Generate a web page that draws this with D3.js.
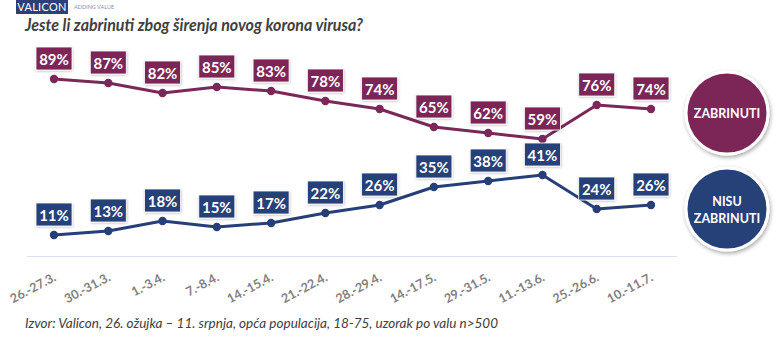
<!DOCTYPE html>
<html>
<head>
<meta charset="utf-8">
<script src="https://cdn.jsdelivr.net/npm/d3@7"></script>
<style>
  body { margin: 0; background: #fff; }
  svg { display: block; font-family: Lato, "Open Sans", sans-serif; }
</style>
</head>
<body>
<svg id="chart" width="778" height="342"></svg>
<script>
// survey waves and shares (%)
const waves = ["26.-27.3.", "30.-31.3.", "1.-3.4.", "7.-8.4.", "14.-15.4.", "21.-22.4.",
  "28.-29.4.", "14.-17.5.", "29.-31.5.", "11.-13.6.", "25.-26.6.", "10.-11.7."];
const zabrinuti = [89, 87, 82, 85, 83, 78, 74, 65, 62, 59, 76, 74];
const nisuZabrinuti = [11, 13, 18, 15, 17, 22, 26, 35, 38, 41, 24, 26];

const colors = ["#7b2758", "#263f78"];

const svg = d3.select("#chart");

// drop shadow for circles and boxes
const defs = svg.append("defs");
const sh = defs.append("filter").attr("id", "shadow")
  .attr("x", "-30%").attr("y", "-30%").attr("width", "160%").attr("height", "160%");
sh.append("feDropShadow").attr("dx", 1).attr("dy", 2).attr("stdDeviation", 2)
  .attr("flood-color", "#000").attr("flood-opacity", 0.35);
const sh2 = defs.append("filter").attr("id", "boxshadow")
  .attr("x", "-20%").attr("y", "-20%").attr("width", "140%").attr("height", "140%");
sh2.append("feDropShadow").attr("dx", 0.5).attr("dy", 1).attr("stdDeviation", 0.8)
  .attr("flood-color", "#000").attr("flood-opacity", 0.25);

// header logo
svg.append("rect").attr("x", 16).attr("y", 0).attr("width", 52).attr("height", 14).attr("fill", "#2b3f7a");
svg.append("text").attr("x", 42).attr("y", 11).attr("text-anchor", "middle")
  .attr("fill", "#fff").attr("font-size", 11).attr("letter-spacing", 0.3).text("VALICON");
svg.append("text").attr("x", 74).attr("y", 9).attr("fill", "#7f8fb0")
  .attr("font-size", 5.5).text("ADDING VALUE");

svg.append("text").attr("x", 25).attr("y", 31)
  .attr("fill", "#404040").attr("font-size", 16.5).attr("font-weight", "bold").attr("font-style", "italic")
  .attr("textLength", 338).attr("lengthAdjust", "spacingAndGlyphs")
  .text("Jeste li zabrinuti zbog širenja novog korona virusa?");

const x = d3.scalePoint().domain(waves).range([54, 651]);
const y = d3.scaleLinear().domain([0, 100]).range([257, 57]);

// baseline
svg.append("line").attr("x1", 27).attr("x2", 677).attr("y1", 256.5).attr("y2", 256.5)
  .attr("stroke", "#d6e1f3").attr("stroke-width", 1);

// slanted wave labels, each ending just right of its wave
svg.append("g").selectAll("text").data(waves).join("text")
  .attr("transform", d => `translate(${x(d) + 3},280) rotate(-28)`)
  .attr("text-anchor", "end")
  .attr("fill", "#808080").attr("font-size", 12.5).attr("font-weight", "bold")
  .text(d => d);

const line = d3.line().x((d, i) => x(waves[i])).y(d => y(d));

[zabrinuti, nisuZabrinuti].forEach((vals, s) => {
  const g = svg.append("g");
  g.append("path").attr("d", line(vals)).attr("fill", "none")
    .attr("stroke", colors[s]).attr("stroke-width", 3).attr("stroke-linejoin", "round");
  g.selectAll("circle").data(vals).join("circle")
    .attr("cx", (d, i) => x(waves[i])).attr("cy", d => y(d)).attr("r", 4.2)
    .attr("fill", colors[s]);
  const lbl = g.selectAll("g.lbl").data(vals).join("g").attr("class", "lbl")
    .attr("transform", (d, i) => `translate(${x(waves[i])},${y(d) - 20})`);
  lbl.append("rect").attr("x", -18).attr("y", -12).attr("width", 36).attr("height", 23)
    .attr("fill", colors[s]).attr("stroke", "#fff").attr("stroke-width", 0.8)
    .attr("filter", "url(#boxshadow)");
  lbl.append("text").attr("text-anchor", "middle").attr("dy", 5.5)
    .attr("fill", "#fff").attr("font-size", 15).attr("font-weight", "bold")
    .text(d => d + "%");
});

// legend discs
const legend = [
  { cy: 113, lines: ["ZABRINUTI"] },
  { cy: 209, lines: ["NISU", "ZABRINUTI"] }
];
legend.forEach((l, s) => {
  const g = svg.append("g").attr("transform", `translate(727,${l.cy})`);
  g.append("circle").attr("r", 41).attr("fill", colors[s])
    .attr("stroke", "#fff").attr("stroke-width", 3).attr("filter", "url(#shadow)");
  const t = g.append("text").attr("text-anchor", "middle").attr("fill", "#fff")
    .attr("font-size", 12.5).attr("font-weight", "bold");
  const off = (l.lines.length - 1) * 8;
  l.lines.forEach((txt, i) => {
    t.append("tspan").attr("x", 0).attr("y", -off + i * 17 + 4.5).text(txt);
  });
});

svg.append("text").attr("x", 25).attr("y", 328)
  .attr("fill", "#404040").attr("font-size", 13).attr("font-style", "italic")
  .attr("textLength", 473).attr("lengthAdjust", "spacingAndGlyphs")
  .text("Izvor: Valicon, 26. ožujka – 11. srpnja, opća populacija, 18-75, uzorak po valu n>500");
</script>
</body>
</html>
